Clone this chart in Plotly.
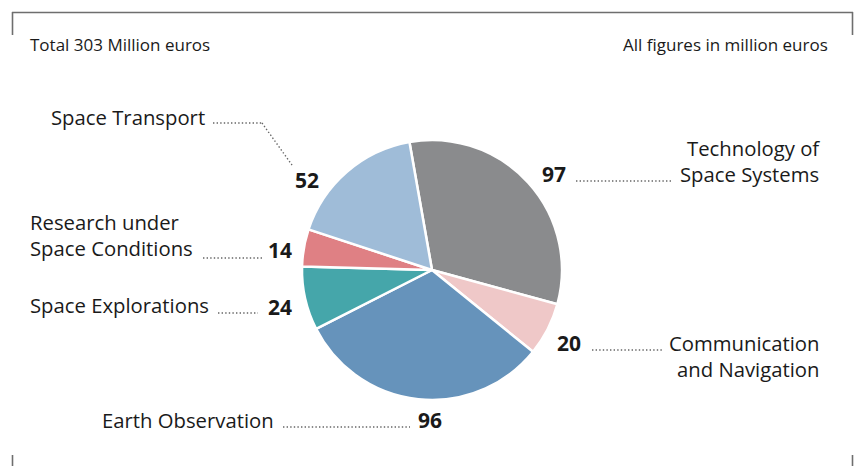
import plotly.graph_objects as go

W, H = 859, 466

labels = ["Technology of Space Systems", "Communication and Navigation", "Earth Observation",
          "Space Explorations", "Research under Space Conditions", "Space Transport"]
values = [97, 20, 96, 24, 14, 52]
colors = ["#8a8b8d", "#efc8c8", "#6693bb", "#45a6aa", "#df8084", "#9fbcd8"]
total_text = "Total 303 Million euros"
unit_text = "All figures in million euros"

FONT = "Open Sans, Noto Sans, sans-serif"
TXT = "#1a1a1a"
LS = 20.3   # label font size
NS = 21     # number font size

def px(x):
    return x / W

def py(y):
    return 1 - y / H

# pie placement: center (432, 270), radius 130
cx, cy, r = 432, 270, 130
fig = go.Figure(go.Pie(
    labels=labels, values=values, sort=False, direction="clockwise", rotation=-10,
    marker=dict(colors=colors, line=dict(color="white", width=2.5)),
    textinfo="none", hoverinfo="label+value", showlegend=False,
    domain=dict(x=[px(cx - r), px(cx + r)], y=[py(cy + r), py(cy - r)]),
))

ann = []
def text(x, y, s, anchor="left", bold=False, size=LS, align=None):
    ann.append(dict(x=px(x), y=py(y), xref="paper", yref="paper", text=s, showarrow=False,
                    xanchor=anchor, yanchor="middle", align=align or anchor,
                    font=dict(family=FONT, size=size, color=TXT,
                              weight=("bold" if bold else "normal"))))

# header texts
text(28, 45, total_text, "left", size=17)
text(830, 45, unit_text, "right", size=17)

# labels and values
text(207, 117, labels[5], "right")
text(307, 180, str(values[5]), "center", bold=True, size=NS)

text(28, 235, "Research under<br>Space Conditions", "left")
text(280, 250, str(values[4]), "center", bold=True, size=NS)

text(28, 305, labels[3], "left")
text(280, 307, str(values[3]), "center", bold=True, size=NS)

text(276, 420, labels[2], "right")
text(430, 420, str(values[2]), "center", bold=True, size=NS)

text(554, 174, str(values[0]), "center", bold=True, size=NS)
text(822, 161, "Technology of<br>Space Systems", "right")

text(569, 343, str(values[1]), "center", bold=True, size=NS)
text(822, 356, "Communication<br>and Navigation", "right")

shapes = []
def seg(x0, y0, x1, y1, color="#666666", width=1.4, dash="1.4px,2.2px"):
    shapes.append(dict(type="line", xref="paper", yref="paper",
                       x0=px(x0), y0=py(y0), x1=px(x1), y1=py(y1),
                       line=dict(color=color, width=width, dash=dash)))

# dotted leader lines
seg(213, 123, 262, 123)
seg(262, 123, 292, 165)
seg(203, 258, 262, 258)
seg(218, 313, 258, 313)
seg(283, 427, 410, 427)
seg(576, 181, 672, 181)
seg(592, 350, 662, 350)

# frame
fc = "#6e6e6e"
seg(12, 12.5, 853, 12.5, fc, 1.6, "solid")
seg(12.5, 12, 12.5, 35, fc, 1.6, "solid")
seg(852.5, 12, 852.5, 35, fc, 1.6, "solid")
seg(12.5, 455, 12.5, 466, fc, 1.6, "solid")
seg(852.5, 455, 852.5, 466, fc, 1.6, "solid")

fig.update_layout(width=W, height=H, margin=dict(l=0, r=0, t=0, b=0),
                  paper_bgcolor="white", plot_bgcolor="white",
                  annotations=ann, shapes=shapes)
fig.write_html("out.html", config={"displayModeBar": False},
               post_script="document.body.style.margin='0';document.body.style.overflow='hidden';")
